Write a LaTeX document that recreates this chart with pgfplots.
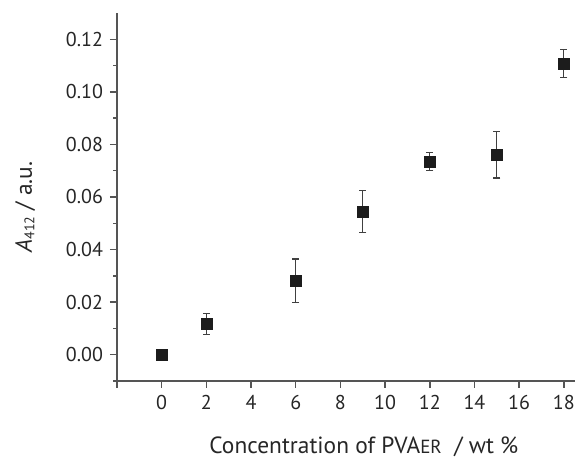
\documentclass[border=0pt]{standalone}
\usepackage{fontspec}
\setmainfont{PT Sans}
\usepackage{pgfplots}
\pgfplotsset{compat=1.18}

\pgfplotstableread{
x     y       e
0     0.0000  0.0000
2     0.0117  0.0040
6     0.0282  0.0082
9     0.0545  0.0080
12    0.0735  0.0035
15    0.0760  0.0088
18    0.1108  0.0053
}\absdata

\definecolor{axgray}{HTML}{555555}
\definecolor{markblk}{HTML}{1C1C1C}

\begin{document}
\begin{tikzpicture}
\begin{axis}[
    scale only axis,
    width=229pt, height=184pt,
    xmin=-2, xmax=18.5, ymin=-0.01, ymax=0.13,
    axis lines=left,
    axis line style={-, axgray, line width=0.75pt},
    tick style={axgray, line width=0.75pt},
    tick align=outside,
    major tick length=3.5pt, minor tick length=1.75pt,
    xtick={-2,0,2,4,6,8,10,12,14,16,18},
    xticklabels={{},0,2,4,6,8,10,12,14,16,18},
    ytick={0,0.02,0.04,0.06,0.08,0.10,0.12},
    minor ytick={-0.01,0.01,0.03,0.05,0.07,0.09,0.11},
    /pgf/number format/assume math mode=true,
    yticklabel style={/pgf/number format/fixed, /pgf/number format/fixed zerofill, /pgf/number format/precision=2},
    ticklabel style={font=\fontsize{10}{12}\selectfont, text=black!85},
    scaled y ticks=false,
    xlabel={Concentration of PVA{\fontsize{9.5}{11}\selectfont ER}\ \ / wt \%},
    ylabel={\textit{A}{\fontsize{7}{8}\selectfont\raisebox{-0.35ex}{412}} / a.u.},
    label style={font=\fontsize{11.7}{14}\selectfont, text=black!85},
    xlabel style={at={(axis description cs:0.539,-0.197)}, anchor=base},
    ylabel style={at={(axis description cs:-0.186,0.473)}, anchor=base, rotate=0},
]
\addplot[only marks, mark=square*, mark size=2.75pt,
    mark options={fill=markblk, draw=markblk, line width=0.3pt},
    error bars/.cd, y dir=both, y explicit,
    error bar style={black!75, line width=0.6pt},
    error mark options={rotate=90, mark size=1.75pt, black!75, line width=0.6pt}]
    table[x=x, y=y, y error=e] {\absdata};
\end{axis}
\pgfresetboundingbox
\path ([shift={(-58.5pt,-38.5pt)}]current axis.south west) rectangle ([shift={(2pt,6.5pt)}]current axis.north east);
\end{tikzpicture}
\end{document}
